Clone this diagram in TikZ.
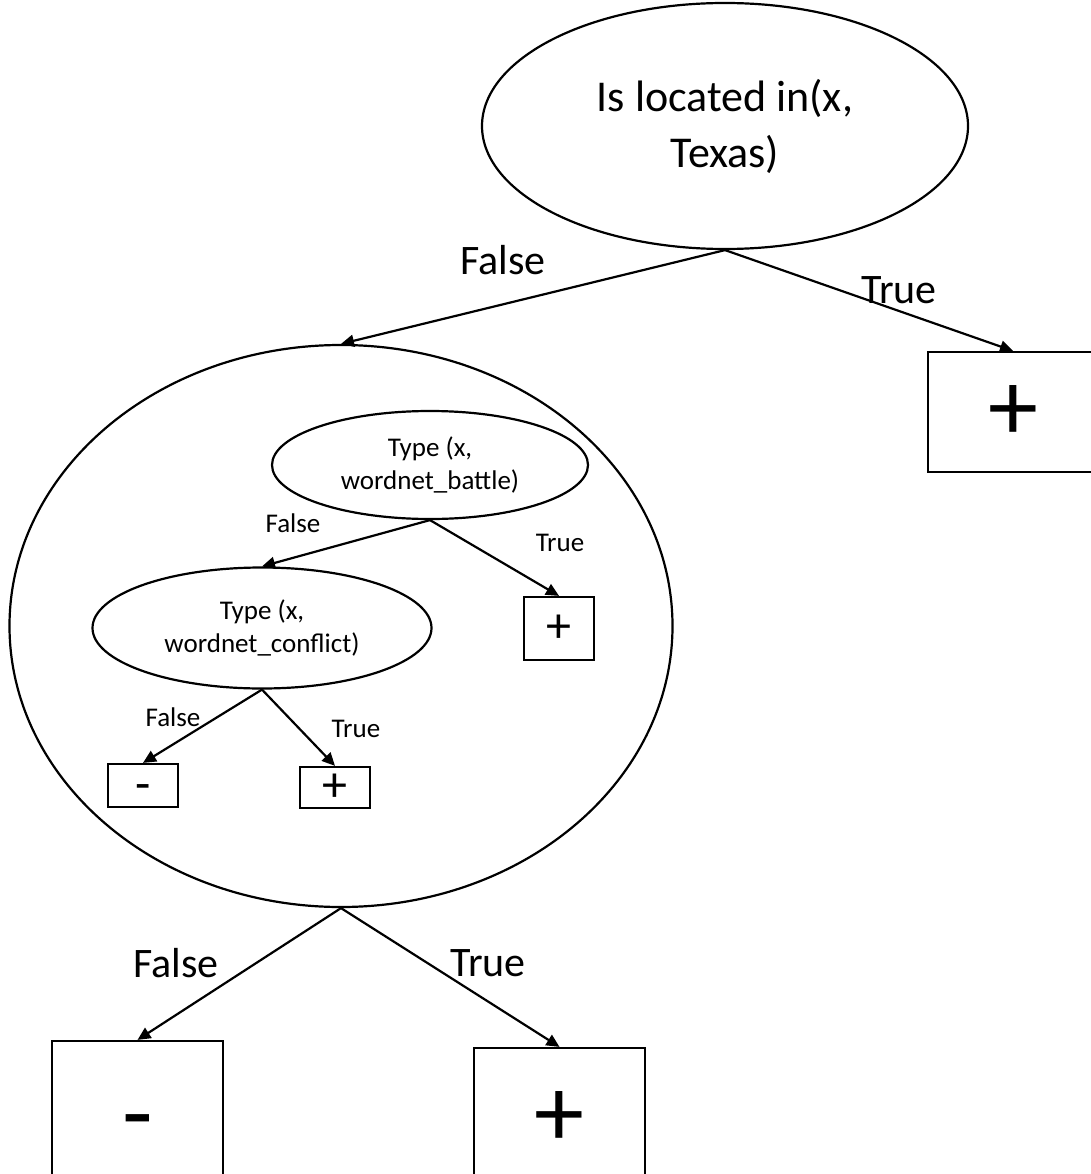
\documentclass[tikz,border=0pt]{standalone}
\usepackage{fontspec}
\setmainfont{Carlito}
\usetikzlibrary{shapes.geometric,arrows.meta}
\begin{document}
\begin{tikzpicture}[x=1pt,y=-1pt,line width=2.2pt,
  ell/.style={draw,ellipse,inner sep=0pt,align=center},
  box/.style={draw,rectangle,inner sep=0pt},
  lab/.style={inner sep=0pt},
  arr/.style={-{Triangle[length=13pt,width=12pt]}},
  bigtxt/.style={font=\fontsize{42}{51}\selectfont},
  toptxt/.style={font=\fontsize{44}{56}\selectfont},
  smalltxt/.style={font=\fontsize{27}{33}\selectfont},
  bigsign/.style={font=\fontsize{100}{100}\selectfont,text height=56pt,text depth=0pt},
  smallplus/.style={font=\fontsize{50}{50}\selectfont,text height=28pt,text depth=0pt},
  smallminus/.style={font=\fontsize{50}{50}\selectfont,text height=30pt,text depth=0pt}]
\useasboundingbox (0,0) rectangle (1090,1174);
% top level
\node[ell,toptxt,minimum width=486pt,minimum height=246pt] (top) at (725,126) {Is located in(x,\\Texas)};
\node[box,bigsign,minimum width=170pt,minimum height=120pt] (rbox) at (1013,412) {+};
\node[ell,minimum width=663pt,minimum height=562pt] (big) at (341,626) {};
% inner tree
\node[ell,smalltxt,minimum width=316pt,minimum height=108pt] (e1) at (430,465) {Type (x,\\wordnet\_battle)};
\node[box,smallplus,minimum width=70pt,minimum height=63pt] (s1) at (559,628.5) {+};
\node[ell,smalltxt,minimum width=339pt,minimum height=121pt] (e2) at (262,628) {Type (x,\\wordnet\_conflict)};
\node[box,smallminus,minimum width=70pt,minimum height=43pt] (s2) at (143,785.5) {-};
\node[box,smallplus,minimum width=70pt,minimum height=41pt] (s3) at (335,787.5) {+};
% bottom boxes
\node[box,bigsign,minimum width=171pt,minimum height=154pt] (bl) at (137.5,1118) {-};
\node[box,bigsign,minimum width=171pt,minimum height=140pt] (br) at (559.5,1118) {+};
% connectors
\draw[arr] (top.south) -- (big.north);
\draw[arr] (top.south) -- (rbox.north);
\draw[arr] (e1.south) -- (e2.north);
\draw[arr] (e1.south) -- (s1.north);
\draw[arr] (e2.south) -- (s2.north);
\draw[arr] (e2.south) -- (s3.north);
\draw[arr] (big.south) -- (bl.north);
\draw[arr] (big.south) -- (br.north);
% labels
\node[lab,bigtxt] (l1) at (503,260) {False};
\node[lab,bigtxt] (l2) at (899,290) {True};
\node[lab,smalltxt] (l3) at (293,523) {False};
\node[lab,smalltxt] (l4) at (560,543) {True};
\node[lab,smalltxt] (l5) at (173,717) {False};
\node[lab,smalltxt] (l6) at (356,729) {True};
\node[lab,bigtxt] (l7) at (176,963) {False};
\node[lab,bigtxt] (l8) at (488,963) {True};
\end{tikzpicture}
\end{document}
